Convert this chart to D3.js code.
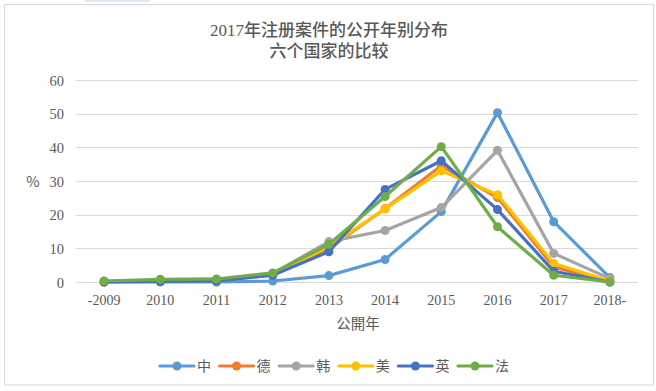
<!DOCTYPE html>
<html><head><meta charset="utf-8">
<script src="https://cdn.jsdelivr.net/npm/d3@7"></script>
<style>
html,body{margin:0;padding:0;background:#fff;}
svg text{font-family:"Liberation Serif","DejaVu Serif","Noto Sans CJK SC",serif;fill:#595959;}
</style></head>
<body>
<svg id="chart" width="656" height="391"></svg>
<script>
const categories = ["-2009","2010","2011","2012","2013","2014","2015","2016","2017","2018-"];
const seriesNames = ["中","德","韩","美","英","法"];
const seriesColors = ["#5B9BD5","#ED7D31","#A5A5A5","#FFC000","#4472C4","#70AD47"];
const valsChina   = [0, 0, 0, 0.3, 1.9, 6.7, 20.9, 50.3, 17.9, 1.3];
const valsGermany = [0, 0.3, 0.5, 2.0, 10.0, 21.8, 34.5, 25.1, 4.5, 0];
const valsKorea   = [0.2, 0.5, 0.5, 2.5, 12.0, 15.3, 22.1, 39.1, 8.5, 1.0];
const valsUSA     = [0.1, 0.4, 0.6, 2.2, 10.5, 21.7, 33.0, 25.9, 5.5, 0.3];
const valsUK      = [0, 0.2, 0.3, 2.0, 9.0, 27.5, 36.0, 21.5, 3.2, 0];
const valsFrance  = [0.3, 0.8, 0.9, 2.7, 11.2, 25.4, 40.2, 16.4, 2.0, 0];
const yTicks = [0,10,20,30,40,50,60];
const title1 = "2017年注册案件的公开年别分布";
const title2 = "六个国家的比较";
const xTitle = "公開年";
const yTitle = "%";

const allVals = [valsChina, valsGermany, valsKorea, valsUSA, valsUK, valsFrance];
const series = seriesNames.map((n,i)=>({name:n,color:seriesColors[i],values:allVals[i]}));

const svg = d3.select("#chart");
// frame
svg.append("rect").attr("x",85).attr("y",0).attr("width",65).attr("height",2).attr("fill","#dbe8f6");
svg.append("rect").attr("x",4.5).attr("y",4.5).attr("width",649).attr("height",380.5)
  .attr("fill","#fff").attr("stroke","#d9d9d9").attr("stroke-width",1);

const x = d3.scaleBand().domain(categories).range([76,638]);
const y = d3.scaleLinear().domain([0,60]).range([282,80]);
const cx = d => x(d) + x.bandwidth()/2;

// gridlines
svg.append("g").selectAll("line").data(yTicks).join("line")
  .attr("x1",76).attr("x2",638).attr("y1",d=>Math.round(y(d))+0.5).attr("y2",d=>Math.round(y(d))+0.5)
  .attr("stroke","#d9d9d9").attr("stroke-width",1);

// y axis labels
const yAxis = d3.axisLeft(y).tickValues(yTicks).tickSize(0).tickPadding(0);
const gy = svg.append("g").attr("transform","translate(64,0)").call(yAxis);
gy.select(".domain").remove();
gy.selectAll("text").attr("font-size",14.5).attr("fill","#595959")
  .style("font-family","'Liberation Serif','DejaVu Serif',serif").attr("dy","0.35em");

// x axis labels
const xAxis = d3.axisBottom(x).tickSize(0).tickPadding(0);
const gx = svg.append("g").attr("transform","translate(0,295)").call(xAxis);
gx.select(".domain").remove();
gx.selectAll("text").attr("font-size",14).attr("fill","#595959").attr("dy","0.71em")
  .style("font-family","'Liberation Serif','DejaVu Serif',serif");

// titles
svg.append("text").attr("x",329).attr("y",36).attr("text-anchor","middle")
  .attr("font-size",17).attr("font-weight",500).attr("fill","#000").text(title1);
svg.append("text").attr("x",329).attr("y",57).attr("text-anchor","middle")
  .attr("font-size",17).attr("font-weight",500).attr("fill","#000").text(title2);
svg.append("text").attr("x",358).attr("y",329).attr("text-anchor","middle")
  .attr("font-size",14.5).attr("fill","#595959").text(xTitle);
svg.append("text").attr("x",33).attr("y",187).attr("text-anchor","middle")
  .attr("font-size",14.5).attr("fill","#595959").style("font-family","'Noto Sans CJK SC',sans-serif").text(yTitle);

// lines
const line = d3.line().x((d,i)=>cx(categories[i])).y(d=>y(d));
const gs = svg.append("g").selectAll("g").data(series).join("g");
gs.append("path").attr("d",d=>line(d.values)).attr("fill","none")
  .attr("stroke",d=>d.color).attr("stroke-width",3.2).attr("stroke-linejoin","round").attr("stroke-linecap","round");
gs.selectAll("circle").data(d=>d.values.map((v,i)=>({v,i,color:d.color}))).join("circle")
  .attr("cx",d=>cx(categories[d.i])).attr("cy",d=>y(d.v)).attr("r",4.5).attr("fill",d=>d.color);

// legend
const legX = d3.scalePoint().domain(seriesNames).range([160,458]);
const lg = svg.append("g").selectAll("g").data(series).join("g")
  .attr("transform",d=>`translate(${legX(d.name)},366)`);
lg.append("line").attr("x1",0).attr("x2",34).attr("y1",0).attr("y2",0)
  .attr("stroke",d=>d.color).attr("stroke-width",3.2).attr("stroke-linecap","round");
lg.append("circle").attr("cx",17).attr("cy",0).attr("r",4.5).attr("fill",d=>d.color);
lg.append("text").attr("x",37).attr("y",0).attr("dy","0.35em").attr("font-size",14)
  .attr("fill","#595959").text(d=>d.name);
</script>
</body></html>
